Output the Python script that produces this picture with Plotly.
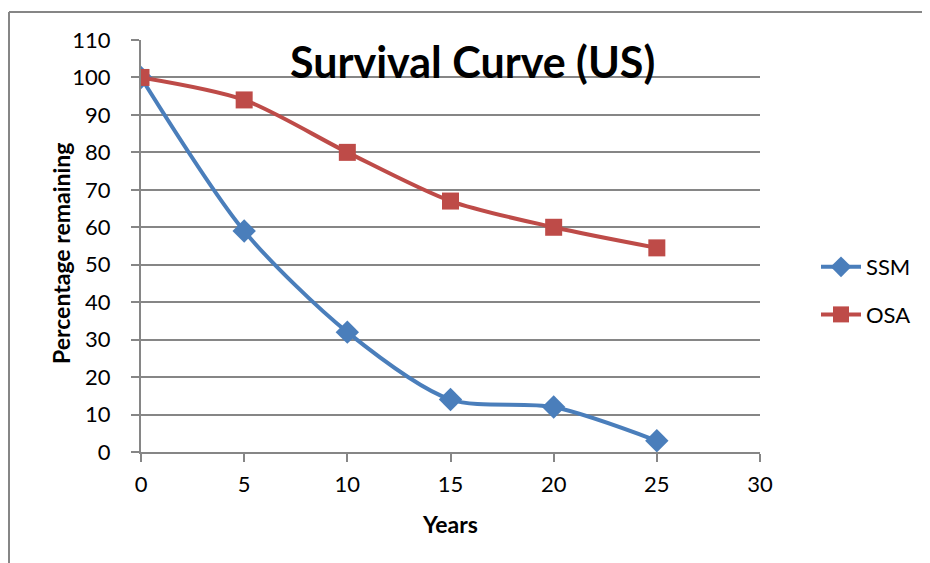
import plotly.graph_objects as go

years = [0, 5, 10, 15, 20, 25]
ssm = [100, 59, 32, 14, 12, 3]
osa = [100, 94, 80, 67, 60, 54.5]

FONT = "Lato"
GRAY = "#868686"

fig = go.Figure()
fig.add_trace(go.Scatter(
    x=years, y=ssm, name="SSM", mode="lines+markers", legendgroup="a",
    line=dict(color="#4A7EBB", width=4, shape="spline", smoothing=0.8),
    marker=dict(symbol="diamond", size=18, color="#4A7EBB"),
))
fig.add_trace(go.Scatter(
    x=years, y=osa, name="OSA", mode="lines+markers", legendgroup="b",
    line=dict(color="#BE4B48", width=4, shape="spline", smoothing=0.8),
    marker=dict(symbol="square", size=17, color="#BE4B48"),
))

# plot area in screenshot pixels
X0, X1, Y0, Y1 = 141, 760, 40, 452
OFF = 8  # page body margin
W, H = 930, 563
L, T = X0 - OFF, Y0 - OFF
R, B = W - (X1 - OFF), H - (Y1 - OFF)
pw, ph = X1 - X0, Y1 - Y0

def px(x):
    return (x - X0) / pw

def py(y):
    return (Y1 - y) / ph

fig.update_layout(
    width=W, height=H,
    margin=dict(l=L, r=R, t=T, b=B, pad=0),
    paper_bgcolor="white", plot_bgcolor="white",
    font=dict(family=FONT, size=22, color="black"),
    showlegend=True,
    legend=dict(x=px(816), y=py(291), xanchor="left", yanchor="middle",
                font=dict(family=FONT, size=22), tracegroupgap=16,
                itemwidth=40, bgcolor="rgba(0,0,0,0)"),
    xaxis=dict(range=[0, 30], dtick=5, tick0=0, showgrid=False, zeroline=False,
               showline=True, linecolor=GRAY, linewidth=2,
               ticks="outside", ticklen=8, tickcolor=GRAY, tickwidth=2,
               ticklabelstandoff=4,
               tickfont=dict(family=FONT, size=22)),
    yaxis=dict(range=[0, 110], dtick=10, tick0=0, showgrid=True, gridcolor=GRAY, gridwidth=2,
               zeroline=False, showline=True, linecolor=GRAY, linewidth=2,
               ticks="outside", ticklen=8, tickcolor=GRAY, tickwidth=2,
               ticklabelstandoff=16,
               tickfont=dict(family=FONT, size=22)),
)

fig.add_annotation(text="<b>Survival Curve (US)</b>", xref="paper", yref="paper",
                   x=px(472), y=py(62), xanchor="center", yanchor="middle",
                   showarrow=False, font=dict(family=FONT, size=43, color="black"))
fig.add_annotation(text="<b>Years</b>", xref="paper", yref="paper",
                   x=px(450), y=py(524), xanchor="center", yanchor="middle",
                   showarrow=False, font=dict(family=FONT, size=23, color="black"))
fig.add_annotation(text="<b>Percentage remaining</b>", xref="paper", yref="paper",
                   x=px(61), y=py(254), xanchor="center", yanchor="middle", textangle=-90,
                   showarrow=False, font=dict(family=FONT, size=23, color="black"))

# chart frame: only top and left edges are visible in the picture
fig.add_shape(type="line", xref="paper", yref="paper",
              x0=px(9), y0=py(12), x1=px(1000), y1=py(12),
              line=dict(color=GRAY, width=2), layer="below")
fig.add_shape(type="line", xref="paper", yref="paper",
              x0=px(9), y0=py(12), x1=px(9), y1=py(640),
              line=dict(color=GRAY, width=2), layer="below")

fig.write_html("out.html")
